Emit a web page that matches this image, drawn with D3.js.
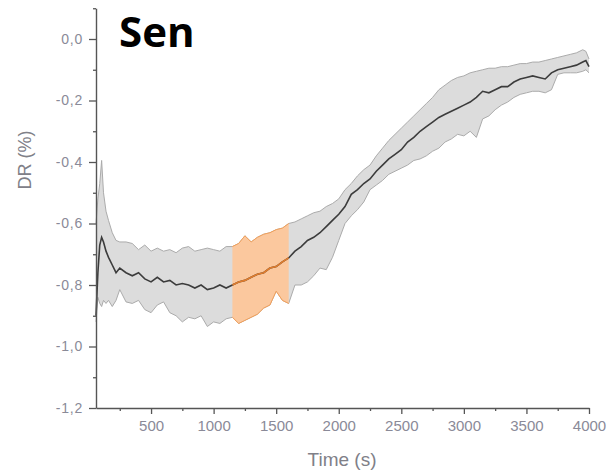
<!DOCTYPE html>
<html>
    <head>
        <title>Sen</title>
        <script src="https://cdnjs.cloudflare.com/ajax/libs/d3/7.8.5/d3.min.js"></script>
        <style>
            body { margin: 0; background: #fff; }
        </style>
    </head>

    <body>
        <svg id="canvas" width="611" height="474"></svg>

        <script>
            // time (s)
            var times = [60, 75, 90, 105, 120, 140, 160, 190, 220, 250,
                300, 350, 400, 450, 500, 550, 600, 650, 700, 750,
                800, 850, 900, 950, 1000, 1050, 1100, 1150, 1200, 1250,
                1300, 1350, 1400, 1450, 1500, 1550, 1600, 1650, 1700, 1750,
                1800, 1850, 1900, 1950, 2000, 2050, 2100, 2150, 2200, 2250,
                2300, 2350, 2400, 2450, 2500, 2550, 2600, 2650, 2700, 2750,
                2800, 2850, 2900, 2950, 3000, 3050, 3100, 3150, 3200, 3250,
                3300, 3350, 3400, 3450, 3500, 3550, 3600, 3650, 3700, 3750,
                3800, 3850, 3900, 3950, 3975, 4000]

            // mean DR (%)
            var meanDR = [-0.90, -0.76, -0.67, -0.645, -0.66, -0.69, -0.71, -0.735, -0.76, -0.745,
                -0.76, -0.77, -0.76, -0.78, -0.79, -0.775, -0.79, -0.785, -0.80, -0.795,
                -0.80, -0.81, -0.80, -0.815, -0.81, -0.80, -0.81, -0.80, -0.79, -0.785,
                -0.775, -0.765, -0.76, -0.745, -0.74, -0.725, -0.712, -0.69, -0.675, -0.655,
                -0.645, -0.63, -0.61, -0.59, -0.57, -0.545, -0.505, -0.49, -0.47, -0.455,
                -0.43, -0.41, -0.39, -0.375, -0.36, -0.335, -0.32, -0.30, -0.285, -0.27,
                -0.255, -0.245, -0.235, -0.225, -0.215, -0.205, -0.19, -0.17, -0.175, -0.165,
                -0.155, -0.155, -0.14, -0.13, -0.125, -0.12, -0.125, -0.13, -0.11, -0.10,
                -0.095, -0.09, -0.085, -0.075, -0.07, -0.09]

            // upper edge of the band
            var upperDR = [-0.60, -0.52, -0.47, -0.395, -0.50, -0.56, -0.59, -0.63, -0.655, -0.66,
                -0.66, -0.665, -0.685, -0.67, -0.69, -0.68, -0.69, -0.685, -0.695, -0.68,
                -0.675, -0.69, -0.685, -0.68, -0.685, -0.69, -0.675, -0.675, -0.665, -0.64,
                -0.66, -0.645, -0.635, -0.63, -0.62, -0.615, -0.60, -0.595, -0.585, -0.575,
                -0.565, -0.56, -0.545, -0.535, -0.52, -0.49, -0.47, -0.445, -0.425, -0.41,
                -0.38, -0.355, -0.33, -0.31, -0.29, -0.27, -0.25, -0.23, -0.21, -0.19,
                -0.165, -0.15, -0.135, -0.125, -0.12, -0.11, -0.105, -0.10, -0.095, -0.095,
                -0.09, -0.09, -0.085, -0.08, -0.08, -0.075, -0.075, -0.07, -0.065, -0.06,
                -0.055, -0.05, -0.045, -0.035, -0.04, -0.065]

            // lower edge of the band
            var lowerDR = [-0.92, -0.84, -0.86, -0.87, -0.85, -0.86, -0.85, -0.87, -0.85, -0.815,
                -0.855, -0.86, -0.85, -0.88, -0.89, -0.865, -0.855, -0.89, -0.90, -0.92,
                -0.905, -0.91, -0.90, -0.935, -0.92, -0.925, -0.91, -0.905, -0.925, -0.915,
                -0.905, -0.895, -0.875, -0.865, -0.82, -0.85, -0.86, -0.80, -0.80, -0.79,
                -0.77, -0.745, -0.75, -0.71, -0.655, -0.60, -0.575, -0.555, -0.53, -0.49,
                -0.475, -0.46, -0.44, -0.43, -0.42, -0.41, -0.395, -0.39, -0.38, -0.365,
                -0.355, -0.335, -0.325, -0.31, -0.315, -0.30, -0.32, -0.26, -0.25, -0.23,
                -0.215, -0.205, -0.19, -0.18, -0.175, -0.17, -0.17, -0.175, -0.165, -0.115,
                -0.11, -0.11, -0.11, -0.105, -0.10, -0.11]

            // highlighted time window
            var highlight = [1150, 1600]

            var xTicks = [500, 1000, 1500, 2000, 2500, 3000, 3500, 4000]
            var xTickLabels = ["500", "1000", "1500", "2000", "2500", "3000", "3500", "4000"]
            var xMinorTicks = [250, 750, 1250, 1750, 2250, 2750, 3250, 3750]
            var yTicks = [-1.2, -1.0, -0.8, -0.6, -0.4, -0.2, 0.0]
            var yTickLabels = ["-1,2", "-1,0", "-0,8", "-0,6", "-0,4", "-0,2", "0,0"]
            var yMinorTicks = [-1.1, -0.9, -0.7, -0.5, -0.3, -0.1, 0.1]

            var data = times.map(function(t, i) {
                return {t: t, m: meanDR[i], hi: upperDR[i], lo: lowerDR[i]}
            })
            var hiData = data.filter(function(d) { return d.t >= highlight[0] && d.t <= highlight[1] })

            var svg = d3.select("#canvas")

            // Scales
            var x = d3.scaleLinear().domain([60, 4000]).range([96, 589])
            var y = d3.scaleLinear().domain([-1.2, 0.1]).range([408, 8.25])

            var area = d3.area()
                .x(function(d) { return x(d.t) })
                .y0(function(d) { return y(d.lo) })
                .y1(function(d) { return y(d.hi) })
            var lineM = d3.line().x(function(d) { return x(d.t) }).y(function(d) { return y(d.m) })
            var lineHi = d3.line().x(function(d) { return x(d.t) }).y(function(d) { return y(d.hi) })
            var lineLo = d3.line().x(function(d) { return x(d.t) }).y(function(d) { return y(d.lo) })

            // grey band
            svg.append("path").datum(data).attr("d", area).attr("fill", "#dcdcdc")
            svg.append("path").datum(data).attr("d", lineHi)
                .attr("fill", "none").attr("stroke", "#ababab").attr("stroke-width", 1)
            svg.append("path").datum(data).attr("d", lineLo)
                .attr("fill", "none").attr("stroke", "#ababab").attr("stroke-width", 1)

            // orange window
            svg.append("path").datum(hiData).attr("d", area).attr("fill", "#fbc89e")
            svg.append("path").datum(hiData).attr("d", lineHi)
                .attr("fill", "none").attr("stroke", "#f2a05a").attr("stroke-width", 1)
            svg.append("path").datum(hiData).attr("d", lineLo)
                .attr("fill", "none").attr("stroke", "#f2a05a").attr("stroke-width", 1)

            // mean line
            svg.append("path").datum(data).attr("d", lineM)
                .attr("fill", "none").attr("stroke", "#3c3c3c").attr("stroke-width", 1.6)
            svg.append("path").datum(hiData).attr("d", lineM)
                .attr("fill", "none").attr("stroke", "#e27d2c").attr("stroke-width", 1.6)

            // Axes
            var tickColor = "#8a8a98"

            var xAxis = svg.append("g")
                .attr("transform", "translate(0,408)")
                .call(d3.axisBottom(x).tickValues(xTicks).tickSize(6).tickSizeOuter(0).tickPadding(6)
                    .tickFormat(function(d, i) { return xTickLabels[i] }))
            xAxis.append("g")
                .call(d3.axisBottom(x).tickValues(xMinorTicks).tickSize(3).tickFormat(""))
                .select(".domain").remove()

            var yAxis = svg.append("g")
                .attr("transform", "translate(96,0)")
                .call(d3.axisLeft(y).tickValues(yTicks).tickSize(7).tickSizeOuter(0).tickPadding(6)
                    .tickFormat(function(d, i) { return yTickLabels[i] }))
            yAxis.append("g")
                .call(d3.axisLeft(y).tickValues(yMinorTicks).tickSize(3).tickFormat(""))
                .select(".domain").remove()

            svg.selectAll(".domain").attr("stroke", "#555").attr("stroke-width", 1.4)
            svg.selectAll(".tick line").attr("stroke", "#555").attr("stroke-width", 1.3)
            xAxis.selectAll(".tick text")
                .attr("fill", tickColor)
                .attr("font-family", "Liberation Sans, Arial, sans-serif")
                .attr("font-size", 15)
            yAxis.selectAll(".tick text")
                .attr("fill", tickColor)
                .attr("font-family", "Liberation Sans, Arial, sans-serif")
                .attr("font-size", 14)
                .attr("letter-spacing", 0.8)

            // Labels
            svg.append("text")
                .attr("x", 342)
                .attr("y", 466)
                .attr("text-anchor", "middle")
                .attr("fill", "#808088")
                .attr("font-family", "Liberation Sans, Arial, sans-serif")
                .attr("font-size", 19)
                .text("Time (s)")

            svg.append("text")
                .attr("transform", "translate(31,160) rotate(-90)")
                .attr("text-anchor", "middle")
                .attr("fill", "#808088")
                .attr("font-family", "Liberation Sans, Arial, sans-serif")
                .attr("font-size", 18)
                .text("DR (%)")

            svg.append("text")
                .attr("x", 119)
                .attr("y", 47)
                .attr("fill", "#000")
                .attr("font-family", "Open Sans, sans-serif")
                .attr("font-weight", "bold")
                .attr("font-size", 42)
                .text("Sen")
        </script>
    </body>
</html>
